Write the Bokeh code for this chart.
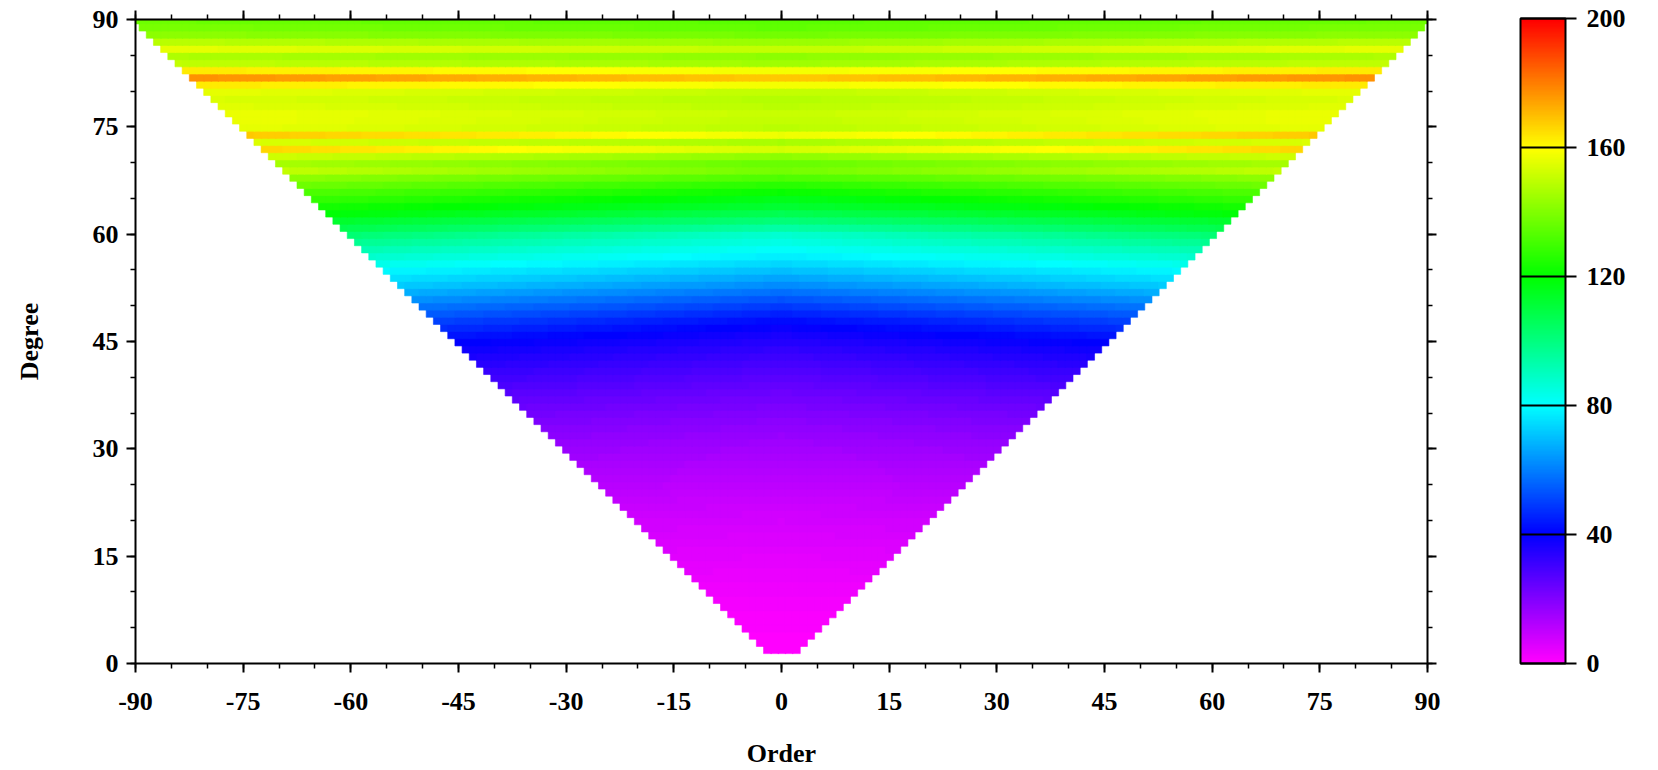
import numpy as np
from bokeh.plotting import figure
from bokeh.models import (LinearColorMapper, ColorBar, FixedTicker, LinearAxis,
                          Range1d, ColumnDataSource, CustomLabelingPolicy)
from bokeh.embed import file_html
from bokeh.resources import INLINE

# ---- data ----
degrees = list(range(2, 91))
# value near order 0 for each degree 2..90
center_values = [
    0.0, 0.3, 0.5, 0.8, 1.0, 1.3, 1.6, 2.0, 2.4,                 # 2-10
    2.8, 3.2, 3.6, 4.0, 4.5, 5.0, 5.5, 6.0, 6.5, 7.0,            # 11-20
    7.6, 8.2, 8.8, 9.5, 10.2, 11.0, 11.8, 12.6, 13.5, 14.4,      # 21-30
    15.4, 16.4, 17.4, 18.5, 19.6, 20.8, 22.0, 23.3, 24.6, 26.0,  # 31-40
    27.5, 29.0, 30.7, 32.5, 34.4, 36.5, 38.8, 41.5, 45.0, 49.0,  # 41-50
    53.0, 57.5, 62.0, 66.0, 70.0, 74.0, 77.5, 80.5, 84.0, 87.0,  # 51-60
    94.0, 101.0, 107.0, 112.0, 116.0, 121.0, 126.0, 132.0, 138.0, 136.0,  # 61-70
    142.0, 153.0, 146.0, 157.0, 149.0, 150.0, 151.0, 149.0, 148.0, 150.0,  # 71-80
    158.0, 168.0, 158.0, 145.0, 142.0, 150.0, 144.0, 138.0, 135.0, 134.0,  # 81-90
]
# value at the outer edge (|order| = degree) for each degree 2..90
edge_values = [
    0.0, 0.3, 0.6, 0.9, 1.1, 1.4, 1.8, 2.2, 2.6,                 # 2-10
    3.1, 3.5, 4.0, 4.4, 5.0, 5.5, 6.1, 6.6, 7.2, 7.7,            # 11-20
    8.4, 9.0, 9.7, 10.5, 11.3, 12.2, 13.1, 14.0, 15.0, 16.0,     # 21-30
    17.1, 18.3, 19.5, 20.8, 22.1, 23.5, 25.0, 26.6, 28.3, 30.1,  # 31-40
    32.0, 34.0, 36.0, 38.0, 40.5, 43.5, 47.0, 50.5, 54.5, 58.5,  # 41-50
    63.0, 67.5, 72.0, 75.5, 79.0, 83.0, 87.5, 92.0, 97.0, 102.0, # 51-60
    108.0, 113.0, 119.0, 123.0, 128.0, 132.0, 137.0, 142.0, 150.0, 146.0,  # 61-70
    152.0, 166.0, 154.0, 168.0, 156.0, 157.0, 157.0, 155.0, 154.0, 156.0,  # 71-80
    163.0, 177.0, 163.0, 150.0, 147.0, 156.0, 149.0, 142.0, 139.0, 137.0,  # 81-90
]
order_ticks = [-90, -75, -60, -45, -30, -15, 0, 15, 30, 45, 60, 75, 90]
order_labels = ["-90", "-75", "-60", "-45", "-30", "-15", "0", "15", "30", "45", "60", "75", "90"]
degree_ticks = [0, 15, 30, 45, 60, 75, 90]
cbar_ticks = [0, 40, 80, 120, 160, 200]

# ---- colour map: magenta-blue-cyan-green-yellow-red ----
anchors = [(255, 0, 255), (0, 0, 255), (0, 255, 255), (0, 255, 0), (255, 255, 0), (255, 0, 0)]
palette = []
for i in range(256):
    t = i / 255 * 5
    k = min(int(t), 4)
    f = t - k
    a, b = anchors[k], anchors[k + 1]
    palette.append('#%02x%02x%02x' % tuple(int(round(a[j] + (b[j] - a[j]) * f)) for j in range(3)))

xs, ys, vs = [], [], []
for n, c, e in zip(degrees, center_values, edge_values):
    for m in range(-n, n + 1):
        xs.append(m)
        ys.append(n)
        vs.append(c + (e - c) * abs(m) / n)
src = ColumnDataSource(dict(x=xs, y=ys, v=vs))

mapper = LinearColorMapper(palette=palette, low=0, high=200)

FONT = "Liberation Serif"
FS = "26px"

p = figure(width=1658, height=770, x_range=Range1d(-90, 90), y_range=Range1d(0, 90),
           output_backend="svg", toolbar_location=None,
           min_border_left=135, min_border_top=19, min_border_bottom=106, min_border_right=231,
           x_axis_location=None, y_axis_location=None)
p.outline_line_color = None
p.xgrid.visible = False
p.ygrid.visible = False
p.background_fill_color = "white"
p.border_fill_color = "white"

p.rect(x='x', y='y', width=1, height=1, source=src, dilate=True,
       fill_color={'field': 'v', 'transform': mapper},
       line_color={'field': 'v', 'transform': mapper}, line_width=0.6)

x_minor = list(range(-90, 91, 5))
y_minor = list(range(0, 91, 5))

no_labels = CustomLabelingPolicy(code="for (const i of indices) indices.unset(i)")


def style_axis(ax, labels=True):
    ax.axis_line_width = 2
    ax.axis_line_color = "black"
    ax.major_tick_line_width = 2
    ax.minor_tick_line_width = 1.5
    ax.major_tick_out = 9
    ax.major_tick_in = 0
    ax.minor_tick_out = 5
    ax.minor_tick_in = 0
    ax.major_label_text_font = FONT
    ax.major_label_text_font_style = "bold"
    ax.major_label_text_font_size = FS if labels else "1px"
    ax.major_label_text_color = "black"
    ax.axis_label_text_font = FONT
    ax.axis_label_text_font_style = "bold"
    ax.axis_label_text_font_size = FS
    ax.axis_label_text_color = "black"
    if not labels:
        ax.major_label_policy = no_labels
        ax.major_label_standoff = 0


xb = LinearAxis(ticker=FixedTicker(ticks=order_ticks, minor_ticks=x_minor), axis_label="Order")
style_axis(xb)
xb.major_label_overrides = dict(zip(order_ticks, order_labels))
xb.major_label_standoff = 20
xb.axis_label_standoff = 26
p.add_layout(xb, "below")

xt = LinearAxis(ticker=FixedTicker(ticks=order_ticks, minor_ticks=x_minor))
style_axis(xt, labels=False)
p.add_layout(xt, "above")

yl = LinearAxis(ticker=FixedTicker(ticks=degree_ticks, minor_ticks=y_minor), axis_label="Degree")
style_axis(yl)
yl.major_label_standoff = 8
yl.axis_label_standoff = 46
p.add_layout(yl, "left")

yr = LinearAxis(ticker=FixedTicker(ticks=degree_ticks, minor_ticks=y_minor))
style_axis(yr, labels=False)
p.add_layout(yr, "right")

cb = ColorBar(color_mapper=mapper, ticker=FixedTicker(ticks=cbar_ticks), width=45, height=645,
              location=(1385, 0), padding=0, margin=0, label_standoff=10,
              major_tick_in=45, major_tick_out=11, major_tick_line_color="black",
              major_tick_line_width=2, minor_tick_line_color=None,
              bar_line_color="black", bar_line_width=2,
              major_label_text_font=FONT, major_label_text_font_style="bold",
              major_label_text_font_size=FS, major_label_text_color="black",
              background_fill_color=None, border_line_color=None)
p.add_layout(cb)

open("out.html", "w").write(file_html(p, INLINE))
